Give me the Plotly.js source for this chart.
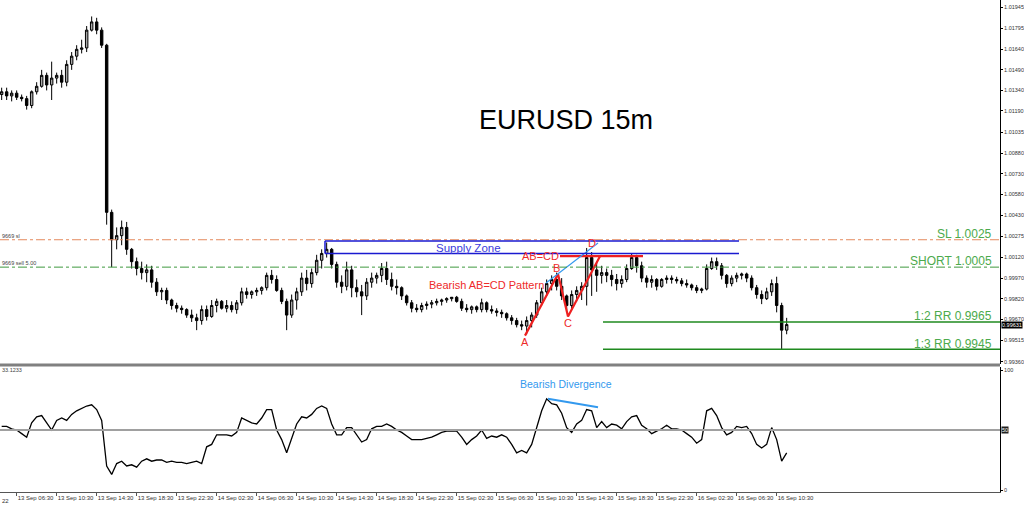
<!DOCTYPE html>
<html>
<head>
<meta charset="utf-8">
<script src="https://cdn.plot.ly/plotly-3.0.1.min.js"></script>
<style>
html,body{margin:0;padding:0;background:#fff;}
#chart{width:1024px;height:507px;}
</style>
</head>
<body>
<div id="chart"></div>
<script>
// ---- DATA: EURUSD 15m chart, read as 30-minute bars starting 13 Sep 2022 05:00 ----
const firstBar = '2022-09-13 05:00';
const barMinutes = 30;

const openP = [
1.0131,1.0133,1.0130,1.0132,1.0129,1.0128,1.0123,1.0133,1.0137,1.0145,
1.0138,1.0143,1.0145,1.0140,1.0153,1.0159,1.0164,1.0165,1.0178,1.0184,
1.0178,1.0167,1.0045,1.0025,1.0028,1.0034,1.0018,1.0009,1.0004,1.0001,
1.0003,0.9994,0.9987,0.9988,0.9981,0.9977,0.9975,0.9974,0.9970,0.9968,
0.9966,0.9974,0.9969,0.9977,0.9980,0.9975,0.9977,0.9974,0.9979,0.9987,
0.9985,0.9987,0.9988,0.9990,0.9999,0.9996,0.9988,0.9980,0.9970,0.9981,
0.9987,0.9997,0.9993,1.0001,1.0010,1.0015,1.0018,1.0007,0.9994,0.9991,
1.0003,0.9990,0.9987,0.9984,0.9994,0.9997,0.9999,1.0004,0.9996,0.9991,
0.9990,0.9984,0.9979,0.9975,0.9974,0.9977,0.9978,0.9979,0.9980,0.9981,
0.9982,0.9983,0.9980,0.9975,0.9974,0.9976,0.9974,0.9979,0.9974,0.9973,
0.9972,0.9971,0.9968,0.9966,0.9963,0.9962,0.9966,0.9970,0.9979,0.9987,
0.9993,0.9996,0.9991,0.9984,0.9977,0.9985,0.9988,0.9991,1.0012,1.0003,
0.9999,1.0001,0.9999,0.9996,0.9993,0.9996,1.0004,1.0012,1.0006,0.9997,
0.9994,0.9996,0.9991,0.9996,0.9997,0.9996,0.9995,0.9993,0.9992,0.9990,
0.9988,0.9989,1.0004,1.0009,1.0006,0.9999,0.9993,0.9997,0.9999,1.0000,
0.9997,0.9990,0.9985,0.9982,0.9987,0.9993,0.9977,0.9959];

const highP = [
1.0136,1.0136,1.0134,1.0134,1.0131,1.0130,1.0134,1.0140,1.0149,1.0147,
1.0155,1.0147,1.0149,1.0156,1.0162,1.0167,1.0171,1.0181,1.0188,1.0187,
1.0180,1.0168,1.0047,1.0034,1.0039,1.0038,1.0019,1.0012,1.0009,1.0007,
1.0006,0.9997,0.9990,0.9990,0.9982,0.9979,0.9977,0.9975,0.9974,0.9971,
0.9977,0.9977,0.9981,0.9982,0.9981,0.9981,0.9980,0.9981,0.9990,0.9990,
0.9988,0.9990,0.9991,1.0001,1.0003,0.9999,0.9990,0.9982,0.9985,0.9990,
1.0001,1.0003,1.0004,1.0014,1.0018,1.0023,1.0019,1.0009,0.9999,1.0009,
1.0006,0.9996,0.9992,0.9997,1.0001,1.0001,1.0008,1.0009,1.0001,0.9996,
0.9991,0.9985,0.9981,0.9978,0.9979,0.9980,0.9981,0.9982,0.9982,0.9983,
0.9983,0.9984,0.9982,0.9978,0.9977,0.9977,0.9982,0.9980,0.9977,0.9975,
0.9974,0.9972,0.9970,0.9968,0.9966,0.9969,0.9972,0.9981,0.9990,0.9996,
0.9999,1.0001,0.9997,0.9985,0.9988,0.9991,0.9994,1.0019,1.0016,1.0009,
1.0006,1.0004,1.0003,1.0000,0.9999,1.0007,1.0015,1.0014,1.0009,0.9999,
0.9999,0.9997,0.9997,0.9999,0.9999,0.9998,0.9997,0.9996,0.9993,0.9992,
0.9990,1.0007,1.0012,1.0012,1.0008,1.0000,0.9999,1.0001,1.0001,1.0001,
0.9999,0.9992,0.9988,0.9990,0.9996,0.9998,0.9979,0.9968];

const lowP = [
1.0127,1.0127,1.0126,1.0127,1.0126,1.0120,1.0121,1.0131,1.0136,1.0134,
1.0127,1.0139,1.0136,1.0137,1.0149,1.0156,1.0161,1.0162,1.0177,1.0175,
1.0165,1.0036,1.0005,1.0018,1.0021,1.0014,1.0004,0.9999,0.9996,0.9994,
0.9990,0.9984,0.9981,0.9978,0.9974,0.9972,0.9971,0.9968,0.9965,0.9959,
0.9963,0.9966,0.9968,0.9972,0.9974,0.9972,0.9972,0.9971,0.9977,0.9982,
0.9982,0.9984,0.9985,0.9988,0.9993,0.9987,0.9978,0.9959,0.9968,0.9974,
0.9984,0.9988,0.9990,0.9999,1.0004,1.0012,1.0004,0.9990,0.9986,0.9988,
0.9983,0.9983,0.9970,0.9981,0.9990,0.9993,0.9994,0.9992,0.9988,0.9985,
0.9981,0.9977,0.9972,0.9972,0.9972,0.9974,0.9975,0.9977,0.9977,0.9979,
0.9980,0.9979,0.9973,0.9972,0.9971,0.9972,0.9972,0.9972,0.9971,0.9969,
0.9968,0.9966,0.9963,0.9961,0.9959,0.9956,0.9961,0.9968,0.9977,0.9984,
0.9988,0.9988,0.9981,0.9972,0.9974,0.9980,0.9981,0.9977,0.9984,0.9987,
0.9993,0.9994,0.9991,0.9988,0.9990,0.9994,1.0003,1.0001,0.9994,0.9990,
0.9990,0.9988,0.9990,0.9993,0.9993,0.9993,0.9991,0.9990,0.9988,0.9986,
0.9986,0.9988,1.0003,1.0003,0.9996,0.9990,0.9991,0.9994,0.9996,0.9994,
0.9988,0.9982,0.9978,0.9981,0.9984,0.9972,0.9945,0.9956];

const closeP = [
1.0133,1.0130,1.0132,1.0129,1.0128,1.0123,1.0133,1.0137,1.0145,1.0138,
1.0143,1.0145,1.0140,1.0153,1.0159,1.0164,1.0165,1.0178,1.0184,1.0178,
1.0167,1.0045,1.0025,1.0028,1.0034,1.0018,1.0009,1.0004,1.0001,1.0003,
0.9994,0.9987,0.9988,0.9981,0.9977,0.9975,0.9974,0.9970,0.9968,0.9966,
0.9974,0.9969,0.9977,0.9980,0.9975,0.9977,0.9974,0.9979,0.9987,0.9985,
0.9987,0.9988,0.9990,0.9999,0.9996,0.9988,0.9980,0.9970,0.9981,0.9987,
0.9997,0.9993,1.0001,1.0010,1.0015,1.0018,1.0007,0.9994,0.9991,1.0003,
0.9990,0.9987,0.9984,0.9994,0.9997,0.9999,1.0004,0.9996,0.9991,0.9990,
0.9984,0.9979,0.9975,0.9974,0.9977,0.9978,0.9979,0.9980,0.9981,0.9982,
0.9983,0.9980,0.9975,0.9974,0.9976,0.9974,0.9979,0.9974,0.9973,0.9972,
0.9971,0.9968,0.9966,0.9963,0.9962,0.9966,0.9970,0.9979,0.9987,0.9993,
0.9996,0.9991,0.9984,0.9977,0.9985,0.9988,0.9991,1.0012,1.0003,0.9999,
1.0001,0.9999,0.9996,0.9993,0.9996,1.0004,1.0012,1.0006,0.9997,0.9994,
0.9996,0.9991,0.9996,0.9997,0.9996,0.9995,0.9993,0.9992,0.9990,0.9988,
0.9989,1.0004,1.0009,1.0006,0.9999,0.9993,0.9997,0.9999,1.0000,0.9997,
0.9990,0.9985,0.9982,0.9987,0.9993,0.9977,0.9959,0.99631];

const oscValues = [
53,53,51,50,47,44,56,61,62,56,
50,58,60,58,63,66,68,70,71,67,
58,20,13,22,24,20,21,19,24,26,
24,25,25,23,24,23,23,22,23,24,
22,36,38,46,46,46,45,48,60,58,
56,55,60,67,67,50,42,31,44,55,
61,60,63,68,70,68,55,46,46,52,
52,46,40,42,51,53,53,55,53,50,
48,45,42,42,42,43,44,46,48,49,
49,49,44,38,42,45,50,43,45,44,
46,44,38,31,33,31,38,52,66,76,
72,71,64,52,48,55,58,67,66,52,
57,52,55,54,51,57,61,62,54,51,
47,49,51,54,51,51,50,47,44,39,
42,66,68,62,52,46,48,53,52,53,
47,38,35,38,52,42,24,31];

// price axis labels (as printed on the right scale)
const priceTicks = [1.01945,1.01795,1.01640,1.01490,1.01340,1.01190,1.01035,1.00880,1.00730,1.00580,1.00430,1.00275,1.00120,0.99970,0.99820,0.99670,0.99515,0.99360];
const priceTickText = ['1.01945','1.01795','1.01640','1.01490','1.01340','1.01190','1.01035','1.00880','1.00730','1.00580','1.00430','1.00275','1.00120','0.99970','0.99820','0.99670','0.99515','0.99360'];

// time axis labels
const timeTicks = ['2022-09-13 06:30','2022-09-13 10:30','2022-09-13 14:30','2022-09-13 18:30','2022-09-13 22:30',
  '2022-09-14 02:30','2022-09-14 06:30','2022-09-14 10:30','2022-09-14 14:30','2022-09-14 18:30','2022-09-14 22:30',
  '2022-09-15 02:30','2022-09-15 06:30','2022-09-15 10:30','2022-09-15 14:30','2022-09-15 18:30','2022-09-15 22:30',
  '2022-09-16 02:30','2022-09-16 06:30','2022-09-16 10:30'];
const timeTickText = ['13 Sep 06:30','13 Sep 10:30','13 Sep 14:30','13 Sep 18:30','13 Sep 22:30',
  '14 Sep 02:30','14 Sep 06:30','14 Sep 10:30','14 Sep 14:30','14 Sep 18:30','14 Sep 22:30',
  '15 Sep 02:30','15 Sep 06:30','15 Sep 10:30','15 Sep 14:30','15 Sep 18:30','15 Sep 22:30',
  '16 Sep 02:30','16 Sep 06:30','16 Sep 10:30'];

// trade levels
const slLevel = 1.0025, shortLevel = 1.0005, rr2Level = 0.9965, rr3Level = 0.9945;
const rrStart = '2022-09-15 17:08';
const lastPrice = 0.99631;

// supply zone
const zoneTop = 1.0024, zoneBottom = 1.0015;
const zoneStart = '2022-09-14 13:20', zoneEnd = '2022-09-16 06:44';

// AB=CD pattern points
const patLabels = ['A','B','C','D'];
const patTimes = ['2022-09-15 09:20','2022-09-15 12:38','2022-09-15 13:38','2022-09-15 16:50'];
const patPrices = [0.9955, 1.0000, 0.9969, 1.0013];
const abcdLineTimes = ['2022-09-15 12:50','2022-09-15 21:08'];
const abcdLinePrice = 1.0013;

// light-blue trendline on price, divergence line on oscillator
const trendTimes = ['2022-09-15 11:26','2022-09-15 16:38'];
const trendPrices = [0.99934, 1.00226];
const divTimes = ['2022-09-15 11:38','2022-09-15 16:38'];
const divValues = [76, 69];

// ---- build ----
function fmt(ms){ return new Date(ms).toISOString().slice(0,16).replace('T',' '); }
const t0 = Date.parse(firstBar.replace(' ','T')+':00Z');
const times = closeP.map((_,i)=>fmt(t0 + i*barMinutes*60000));

const xRange = ['2022-09-13 04:50','2022-09-17 08:50'];
const FONT = 'Liberation Sans, Arial, sans-serif';
const H = 492; // plot area height in px
const py = px => 1 - px/H;

const traces = [
  {type:'candlestick', x:times, open:openP, high:highP, low:lowP, close:closeP,
   xaxis:'x', yaxis:'y', hoverinfo:'skip', showlegend:false, whiskerwidth:0,
   increasing:{line:{color:'#000000',width:1}, fillcolor:'#a8a8a8'},
   decreasing:{line:{color:'#000000',width:1}, fillcolor:'#000000'}},
  {type:'scatter', mode:'lines', x:patTimes, y:patPrices, xaxis:'x', yaxis:'y',
   line:{color:'#ee2020',width:2.2}, hoverinfo:'skip', showlegend:false},
  {type:'scatter', mode:'lines', x:abcdLineTimes, y:[abcdLinePrice,abcdLinePrice], xaxis:'x', yaxis:'y',
   line:{color:'#ee2020',width:2.2}, hoverinfo:'skip', showlegend:false},
  {type:'scatter', mode:'lines', x:trendTimes, y:trendPrices, xaxis:'x', yaxis:'y',
   line:{color:'#3399ee',width:1.2}, hoverinfo:'skip', showlegend:false},
  {type:'scatter', mode:'lines', x:times, y:oscValues, xaxis:'x2', yaxis:'y2',
   line:{color:'#000000',width:1.3}, hoverinfo:'skip', showlegend:false},
  {type:'scatter', mode:'lines', x:divTimes, y:divValues, xaxis:'x2', yaxis:'y2',
   line:{color:'#3399ee',width:2}, hoverinfo:'skip', showlegend:false}
];

const shapes = [
  {type:'line', xref:'paper', yref:'paper', x0:0, x1:1, y0:py(365), y1:py(365), line:{color:'#808080',width:3}},
  {type:'line', xref:'paper', yref:'y', x0:0, x1:1, y0:slLevel, y1:slLevel, line:{color:'#e48a5e',width:1,dash:'dashdot'}},
  {type:'line', xref:'paper', yref:'y', x0:0, x1:1, y0:shortLevel, y1:shortLevel, line:{color:'#3f9a3f',width:1,dash:'dashdot'}},
  {type:'line', xref:'x', yref:'y', x0:rrStart, x1:xRange[1], y0:rr2Level, y1:rr2Level, line:{color:'#1f8a1f',width:1.5}},
  {type:'line', xref:'x', yref:'y', x0:rrStart, x1:xRange[1], y0:rr3Level, y1:rr3Level, line:{color:'#1f8a1f',width:1.5}},
  {type:'line', xref:'x', yref:'y', x0:zoneStart, x1:zoneEnd, y0:zoneTop, y1:zoneTop, line:{color:'#1a1ad0',width:1.5}},
  {type:'line', xref:'x', yref:'y', x0:zoneStart, x1:zoneEnd, y0:zoneBottom, y1:zoneBottom, line:{color:'#1a1ad0',width:1.5}},
  {type:'line', xref:'x', yref:'y', x0:zoneStart, x1:zoneStart, y0:zoneBottom, y1:zoneTop, line:{color:'#1a1ad0',width:1.5}},
  {type:'line', xref:'paper', yref:'y2', x0:0, x1:1, y0:50, y1:50, line:{color:'#a0a0a0',width:2}}
];

const green = '#4caa4c', red = '#ee2a2a';
function ann(text, x, ypx, opts){
  return Object.assign({text:text, xref:'paper', yref:'paper', x:x, y:py(ypx), showarrow:false,
    xanchor:'center', yanchor:'middle', font:{family:FONT, size:11, color:'#000'}}, opts||{});
}
const annotations = [
  ann('EURUSD 15m', 0.566, 120, {font:{family:FONT,size:27,color:'#000'}}),
  ann('Supply Zone', 0.468, 247.5, {font:{family:FONT,size:11.5,color:'#3b3bdc'}}),
  ann('Bearish AB=CD Pattern', 0.486, 285, {font:{family:FONT,size:11,color:red}}),
  ann('AB=CD', 0.561, 256, {xanchor:'right', font:{family:FONT,size:11,color:red}}),
  ann(patLabels[0], 0.525, 342, {font:{family:FONT,size:11,color:red}}),
  ann(patLabels[1], 0.556, 268, {font:{family:FONT,size:11,color:red}}),
  ann(patLabels[2], 0.568, 323, {font:{family:FONT,size:11,color:red}}),
  ann(patLabels[3], 0.592, 243, {font:{family:FONT,size:11,color:red}}),
  ann('SL 1.0025', 0.994, 234, {xanchor:'right', font:{family:FONT,size:12,color:green}}),
  ann('SHORT 1.0005', 0.994, 261, {xanchor:'right', font:{family:FONT,size:12,color:green}}),
  ann('1:2 RR 0.9965', 0.994, 316, {xanchor:'right', font:{family:FONT,size:12,color:green}}),
  ann('1:3 RR 0.9945', 0.994, 343.5, {xanchor:'right', font:{family:FONT,size:12,color:green}}),
  ann('Bearish Divergence', 0.566, 384, {font:{family:FONT,size:10.5,color:'#3399ee'}}),
  ann('9669 sl', 0.0, 236, {xanchor:'left', font:{family:FONT,size:5.5,color:'#444'}}),
  ann('9669 sell 5.00', 0.0, 263, {xanchor:'left', font:{family:FONT,size:5.5,color:'#444'}}),
  ann('33.1233', 0.0, 370, {xanchor:'left', font:{family:FONT,size:5.5,color:'#444'}}),
  ann('22', 0.0, 500.5, {xanchor:'left', font:{family:FONT,size:6,color:'#333'}}),
  {text:'0.99631', xref:'paper', yref:'y', x:1, y:lastPrice, xanchor:'left', yanchor:'middle', showarrow:false,
   bgcolor:'#000', borderpad:0, xshift:1, font:{family:FONT,size:5.5,color:'#fff'}},
  {text:'50', xref:'paper', yref:'y2', x:1, y:50, xanchor:'left', yanchor:'middle', showarrow:false,
   bgcolor:'#222', borderpad:0, xshift:1, font:{family:FONT,size:5.5,color:'#fff'}}
];

const layout = {
  width:1024, height:507,
  margin:{l:0, r:24, t:0, b:15, pad:0},
  paper_bgcolor:'#ffffff', plot_bgcolor:'#ffffff',
  showlegend:false,
  font:{family:FONT, size:6, color:'#333'},
  xaxis:{type:'date', range:xRange, domain:[0,1], anchor:'y', showticklabels:false, showgrid:false,
         zeroline:false, showline:false, ticks:'', rangeslider:{visible:false}, fixedrange:true},
  xaxis2:{type:'date', range:xRange, domain:[0,1], anchor:'y2', showgrid:false, zeroline:false,
          showline:true, linecolor:'#555', linewidth:1, ticks:'outside', ticklen:3, tickcolor:'#555',
          tickmode:'array', tickvals:timeTicks, ticktext:timeTickText, tickangle:0,
          ticklabelposition:'outside right', automargin:false,
          tickfont:{family:FONT,size:6,color:'#333'}},
  yaxis:{domain:[1-364/H, 1], range:[0.99343, 1.0200], side:'right', anchor:'x',
         tickvals:priceTicks, ticktext:priceTickText, ticks:'outside', ticklen:2, tickcolor:'#000',
         showline:true, linecolor:'#000', linewidth:1, showgrid:false, zeroline:false, automargin:false,
         tickfont:{family:FONT,size:5.5,color:'#333'}},
  yaxis2:{domain:[0, 1-367/H], range:[-1.67, 102.5], side:'right', anchor:'x2',
          tickvals:[0,100], ticktext:['0','100'], ticks:'outside', ticklen:2, tickcolor:'#000',
          showline:true, linecolor:'#000', linewidth:1, showgrid:false, zeroline:false, automargin:false,
          tickfont:{family:FONT,size:5.5,color:'#333'}},
  shapes:shapes,
  annotations:annotations
};

Plotly.newPlot('chart', traces, layout, {staticPlot:true, displayModeBar:false});
</script>
</body>
</html>
